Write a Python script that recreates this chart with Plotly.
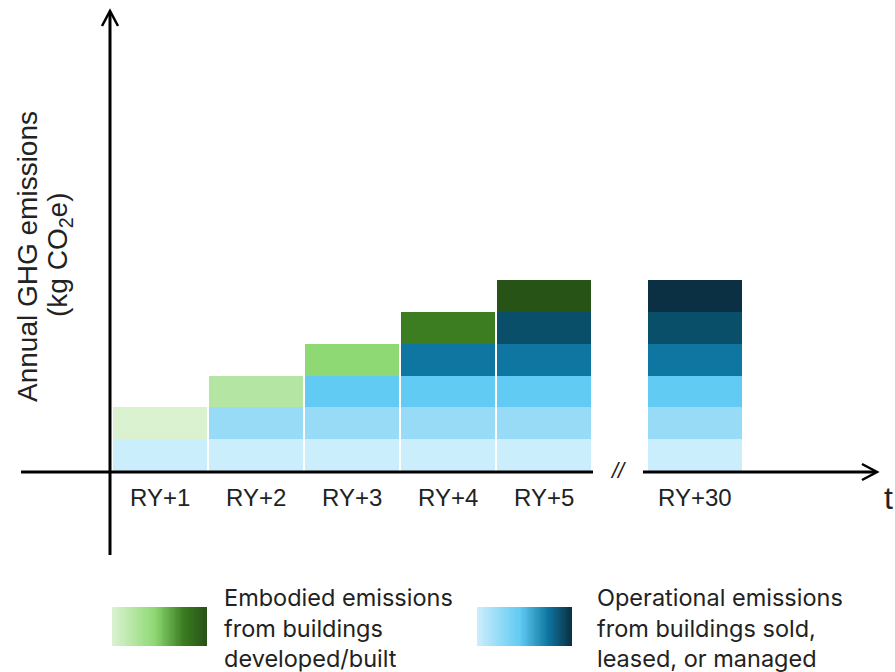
import plotly.graph_objects as go

# ---- data -------------------------------------------------------------
years = ["RY+1", "RY+2", "RY+3", "RY+4", "RY+5", "RY+30"]

# operational emissions, one layer per cohort of buildings (bottom -> top)
op_layer1 = [1, 1, 1, 1, 1, 1]
op_layer2 = [0, 1, 1, 1, 1, 1]
op_layer3 = [0, 0, 1, 1, 1, 1]
op_layer4 = [0, 0, 0, 1, 1, 1]
op_layer5 = [0, 0, 0, 0, 1, 1]
op_layer6 = [0, 0, 0, 0, 0, 1]
# embodied emissions of the buildings completed in each year
embodied = [1, 1, 1, 1, 1, 0]

op_colors = ["#CAEEFB", "#97DBF7", "#61CBF3", "#0E76A0", "#0A4F6A", "#0B3044"]
emb_colors = ["#DAF2D0", "#B4E5A2", "#8ED973", "#3C7D22", "#275317", "#275317"]

# ---- layout geometry ----------------------------------------------------
W, H = 895, 672
X_UNIT = 96.0          # pixels per bar slot
X_ORIGIN = 160.0       # pixel of first bar centre
Y_UNIT = 31.8          # pixels per layer
Y_ORIGIN = 471.0       # pixel of the baseline
BREAK_GAP = 1.573      # extra slots after the axis break

xpos = list(range(len(years) - 1)) + [len(years) - 2 + BREAK_GAP]
x_range = [-X_ORIGIN / X_UNIT, (W - X_ORIGIN) / X_UNIT]
y_range = [-(H - Y_ORIGIN) / Y_UNIT, Y_ORIGIN / Y_UNIT]


def px(x):
    return x / W


def py(y):
    return 1 - y / H


fig = go.Figure()

for layer, col in zip(
    [op_layer1, op_layer2, op_layer3, op_layer4, op_layer5, op_layer6], op_colors
):
    fig.add_trace(
        go.Bar(
            x=xpos, y=layer, width=0.98, marker=dict(color=col, line=dict(width=0)),
            hoverinfo="skip", showlegend=False,
        )
    )

fig.add_trace(
    go.Bar(
        x=xpos, y=embodied, width=0.98,
        marker=dict(color=emb_colors, line=dict(width=0)),
        hoverinfo="skip", showlegend=False,
    )
)

# ---- legend swatches (gradient strips) ---------------------------------
N = 80
green_scale = [[0, "#DAF2D0"], [0.45, "#8ED973"], [0.75, "#3C7D22"], [1, "#275317"]]
blue_scale = [[0, "#CAEEFB"], [0.45, "#61CBF3"], [0.75, "#0E76A0"], [1, "#0B3044"]]


def to_dx(p):
    return (p - X_ORIGIN) / X_UNIT


def to_dy(p):
    return (Y_ORIGIN - p) / Y_UNIT


for (left, right), scale in [((112, 207), green_scale), ((477, 572), blue_scale)]:
    xl, xr = to_dx(left), to_dx(right)
    edges = [xl + (xr - xl) * k / N for k in range(N + 1)]
    fig.add_trace(
        go.Heatmap(
            x=edges, y=[to_dy(646), to_dy(607)], z=[list(range(N))],
            colorscale=scale, showscale=False, hoverinfo="skip",
        )
    )

# ---- axes drawn as arrows ----------------------------------------------
line = dict(color="black", width=3)
shapes = [
    # vertical axis
    dict(type="line", xref="paper", yref="paper", x0=px(110), x1=px(110),
         y0=py(555), y1=py(12), line=line),
    dict(type="path", xref="paper", yref="paper",
         path=f"M{px(102)},{py(26)} L{px(110)},{py(11)} L{px(118)},{py(26)}",
         line=dict(color="black", width=2.5)),
    # horizontal axis, left of the break
    dict(type="line", xref="paper", yref="paper", x0=px(21), x1=px(593),
         y0=py(472), y1=py(472), line=line),
    # horizontal axis, right of the break
    dict(type="line", xref="paper", yref="paper", x0=px(643), x1=px(876),
         y0=py(472), y1=py(472), line=line),
    dict(type="path", xref="paper", yref="paper",
         path=f"M{px(862)},{py(464)} L{px(877)},{py(472)} L{px(862)},{py(480)}",
         line=dict(color="black", width=2.5)),
]

axis_font = dict(family="Liberation Sans, Arial, sans-serif", size=24, color="#222222")
title_font = dict(family="Liberation Sans, Arial, sans-serif", size=28, color="#222222")
legend_font = dict(family="Inter, Noto Sans, sans-serif", size=23.5, color="#222222")

annotations = []
for x, lab in zip(xpos, years):
    annotations.append(
        dict(x=x, y=0, xref="x", yref="y", text=lab, showarrow=False,
             yshift=-26, font=axis_font, xanchor="center", yanchor="middle")
    )

annotations += [
    dict(x=px(888), y=py(498), xref="paper", yref="paper", text="t", showarrow=False,
         font=dict(family="Liberation Sans, Arial, sans-serif", size=32, color="#222222"),
         xanchor="center", yanchor="middle"),
    dict(x=px(618), y=py(470), xref="paper", yref="paper", text="<i>//</i>",
         showarrow=False, font=dict(family="Liberation Sans, Arial, sans-serif",
                                    size=22, color="#222222"),
         xanchor="center", yanchor="middle"),
    # vertical axis title, two rotated lines
    dict(x=px(27), y=py(257), xref="paper", yref="paper",
         text="Annual GHG emissions", textangle=-90,
         showarrow=False, font=title_font, xanchor="center", yanchor="middle"),
    dict(x=px(59), y=py(255), xref="paper", yref="paper",
         text="(kg CO<sub>2</sub>e)", textangle=-90,
         showarrow=False, font=title_font, xanchor="center", yanchor="middle"),
    dict(x=px(222), y=py(628), xref="paper", yref="paper",
         text="Embodied emissions<br>from buildings<br>developed/built",
         showarrow=False, font=legend_font, align="left",
         xanchor="left", yanchor="middle"),
    dict(x=px(595), y=py(628), xref="paper", yref="paper",
         text="Operational emissions<br>from buildings sold,<br>leased, or managed",
         showarrow=False, font=legend_font, align="left",
         xanchor="left", yanchor="middle"),
]

fig.update_layout(
    width=W, height=H,
    margin=dict(l=0, r=0, t=0, b=0),
    paper_bgcolor="white", plot_bgcolor="white",
    barmode="stack", bargap=0,
    xaxis=dict(range=x_range, visible=False, fixedrange=True),
    yaxis=dict(range=y_range, visible=False, fixedrange=True),
    shapes=shapes, annotations=annotations,
    showlegend=False,
)

fig.write_html("out.html", config={"displayModeBar": False})
